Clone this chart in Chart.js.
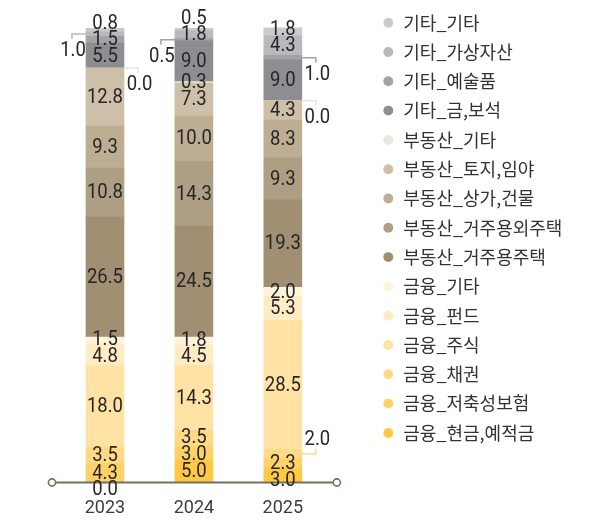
<!DOCTYPE html>
<html>
<head>
<meta charset="utf-8">
<script src="https://cdn.jsdelivr.net/npm/chart.js@4/dist/chart.umd.min.js"></script>
<style>
  html, body { margin: 0; padding: 0; background: #ffffff; }
  #wrap { width: 611px; height: 520px; }
</style>
</head>
<body>
<div id="wrap"><canvas id="assetChart" width="611" height="520"></canvas></div>
<script>
// Asset composition by year (%), stacked bottom (금융) to top (기타)
const years = ['2023', '2024', '2025'];

const cashDeposits     = [0.0, 5.0, 3.0];   // 금융_현금,예적금
const savingsInsurance = [4.3, 3.0, 2.3];   // 금융_저축성보험
const bonds            = [3.5, 3.5, 2.0];   // 금융_채권
const stocks           = [18.0, 14.3, 28.5];// 금융_주식
const funds            = [4.8, 4.5, 5.3];   // 금융_펀드
const financeOther     = [1.5, 1.8, 2.0];   // 금융_기타
const housingOwn       = [26.5, 24.5, 19.3];// 부동산_거주용주택
const housingOther     = [10.8, 14.3, 9.3]; // 부동산_거주용외주택
const commercial       = [9.3, 10.0, 8.3];  // 부동산_상가,건물
const land             = [12.8, 7.3, 4.3];  // 부동산_토지,임야
const realEstateOther  = [0.0, 0.3, 0.0];   // 부동산_기타
const goldJewelry      = [5.5, 9.0, 9.0];   // 기타_금,보석
const artwork          = [1.5, 0.5, 1.0];   // 기타_예술품
const virtualAssets    = [1.0, 1.8, 4.3];   // 기타_가상자산
const otherOther       = [0.8, 0.5, 1.8];   // 기타_기타

const series = [
  { name: '금융_현금,예적금',     values: cashDeposits,     color: '#ffc944' },
  { name: '금융_저축성보험',      values: savingsInsurance, color: '#ffd267' },
  { name: '금융_채권',           values: bonds,            color: '#ffda86' },
  { name: '금융_주식',           values: stocks,           color: '#ffe2a4' },
  { name: '금융_펀드',           values: funds,            color: '#ffebc4' },
  { name: '금융_기타',           values: financeOther,     color: '#fff3dc' },
  { name: '부동산_거주용주택',     values: housingOwn,       color: '#a08f72' },
  { name: '부동산_거주용외주택',   values: housingOther,     color: '#ae9f84' },
  { name: '부동산_상가,건물',     values: commercial,       color: '#bdae93' },
  { name: '부동산_토지,임야',     values: land,             color: '#cdbfa8' },
  { name: '부동산_기타',         values: realEstateOther,  color: '#ebe6dc' },
  { name: '기타_금,보석',        values: goldJewelry,      color: '#8d8d92' },
  { name: '기타_예술품',         values: artwork,          color: '#a3a3a7' },
  { name: '기타_가상자산',        values: virtualAssets,    color: '#b9b9bd' },
  { name: '기타_기타',           values: otherOther,       color: '#cbcbcd' }
];

// Small segments labelled outside the bar with a bracket leader
const callouts = [
  { name: '기타_가상자산', year: '2023', side: 'left',  dir: 1 },
  { name: '부동산_기타',   year: '2023', side: 'right', dir: 1 },
  { name: '기타_예술품',   year: '2024', side: 'left',  dir: 1 },
  { name: '기타_예술품',   year: '2025', side: 'right', dir: 1 },
  { name: '부동산_기타',   year: '2025', side: 'right', dir: 1 },
  { name: '금융_채권',     year: '2025', side: 'right', dir: -1 }
];

const LABEL_FONT = '21px Roboto';
const LABEL_SQUEEZE = 0.88;   // narrow the digits horizontally
const LABEL_COLOR = '#262626';
const LABEL_GAP = 16.5;

function findCallout(name, year) {
  return callouts.find(c => c.name === name && c.year === year);
}

function drawLabel(ctx, text, x, y) {
  ctx.save();
  ctx.translate(x, y);
  ctx.scale(LABEL_SQUEEZE, 1);
  ctx.fillText(text, 0, 0);
  ctx.restore();
}

// Push overlapping in-bar labels apart; outermost labels move outward
function spreadLabels(items, gap) {
  for (let it = 0; it < 200; it++) {
    let moved = false;
    for (let k = 0; k < items.length - 1; k++) {
      const lo = items[k], up = items[k + 1];
      const d = gap - (lo.y - up.y);
      if (d > 0.01) {
        moved = true;
        if (k === 0) lo.y += d;
        else if (k + 1 === items.length - 1) up.y -= d;
        else { lo.y += d / 2; up.y -= d / 2; }
      }
    }
    if (!moved) break;
  }
}

// Baseline with end circles
const axisLinePlugin = {
  id: 'axisLine',
  afterDatasetsDraw(chart) {
    const { ctx, chartArea, scales } = chart;
    const y = scales.y.getPixelForValue(0);
    const x0 = chartArea.left - 8.5, x1 = chartArea.right + 9.5;
    ctx.save();
    ctx.strokeStyle = '#7b6d5f';
    ctx.lineWidth = 2;
    ctx.beginPath();
    ctx.moveTo(x0, y);
    ctx.lineTo(x1, y);
    ctx.stroke();
    ctx.fillStyle = '#ffffff';
    ctx.lineWidth = 1.6;
    for (const cx of [x0, x1]) {
      ctx.beginPath();
      ctx.arc(cx, y, 3.6, 0, Math.PI * 2);
      ctx.fill();
      ctx.stroke();
    }
    ctx.restore();
  }
};

// Value labels inside bars and bracket callouts for small segments
const valueLabelPlugin = {
  id: 'valueLabels',
  afterDatasetsDraw(chart) {
    const { ctx } = chart;
    ctx.save();
    ctx.font = LABEL_FONT;
    ctx.fillStyle = LABEL_COLOR;
    ctx.textAlign = 'center';
    ctx.textBaseline = 'middle';
    chart.data.labels.forEach((year, i) => {
      const inside = [];
      chart.data.datasets.forEach((ds, d) => {
        const bar = chart.getDatasetMeta(d).data[i];
        const v = ds.data[i];
        const cy = (bar.y + bar.base) / 2;
        const c = findCallout(ds.label, year);
        if (c) {
          const edge = c.side === 'left' ? bar.x - bar.width / 2 : bar.x + bar.width / 2;
          const tx = c.side === 'left' ? edge - 14 : edge + 14;
          ctx.strokeStyle = ds.backgroundColor;
          ctx.lineWidth = 1.5;
          ctx.beginPath();
          ctx.moveTo(edge, cy);
          ctx.lineTo(tx, cy);
          ctx.lineTo(tx, cy + 5 * c.dir);
          ctx.stroke();
          drawLabel(ctx, v.toFixed(1), tx + (c.side === 'left' ? 1 : 1.5), cy + (c.dir > 0 ? 17 : -14.5));
        } else {
          inside.push({ x: bar.x, y: cy, text: v.toFixed(1) });
        }
      });
      spreadLabels(inside, LABEL_GAP);
      inside.forEach(l => drawLabel(ctx, l.text, l.x, l.y + 0.5));
    });
    ctx.restore();
  }
};

// Legend column keeps a fixed width so it sits at a set distance from the bars
const LEGEND_WIDTH = 240;
const legendWidthPlugin = {
  id: 'legendWidth',
  beforeUpdate(chart) {
    const lg = chart.legend;
    if (lg && !lg.__fixedWidth) {
      const fit = lg.fit;
      lg.fit = function () { fit.call(this); this.width = LEGEND_WIDTH; };
      lg.__fixedWidth = true;
    }
  }
};

new Chart(document.getElementById('assetChart'), {
  type: 'bar',
  data: {
    labels: years,
    datasets: series.map(s => ({
      label: s.name,
      data: s.values,
      backgroundColor: s.color,
      borderWidth: 0,
      barThickness: 38
    }))
  },
  options: {
    responsive: false,
    animation: false,
    layout: { padding: { left: 60.5, right: 0, top: 2.4, bottom: 0.9 } },
    scales: {
      x: {
        stacked: true,
        grid: { display: false, drawTicks: false },
        border: { display: false },
        ticks: { color: '#3d3d3d', font: { family: 'Roboto', size: 18 }, padding: 15 },
        afterFit(scale) { scale.height = 36.6; }
      },
      y: {
        stacked: true,
        position: 'right',
        min: 0,
        max: 106,
        grid: { display: false, drawTicks: false },
        border: { display: false },
        ticks: { display: false },
        afterFit(scale) { scale.width = 43.7; }
      }
    },
    plugins: {
      tooltip: { enabled: false },
      legend: {
        position: 'right',
        align: 'start',
        reverse: true,
        labels: {
          usePointStyle: true,
          pointStyle: 'circle',
          boxWidth: 12,
          boxHeight: 7,
          padding: 11.3,
          color: '#333333',
          font: { family: "'Noto Sans CJK KR'", size: 18 }
        }
      }
    }
  },
  plugins: [legendWidthPlugin, axisLinePlugin, valueLabelPlugin]
});
</script>
</body>
</html>
